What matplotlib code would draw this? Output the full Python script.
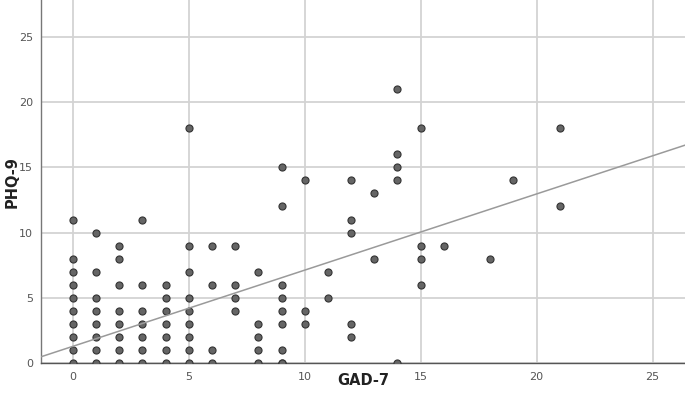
import numpy as np
import matplotlib.pyplot as plt

# GAD-7 vs PHQ-9 scores (one entry per visible dot)
gad7 = (
    [0] * 10 + [1] * 8 + [2] * 8 + [3] * 7 + [4] * 7 + [5] * 9 + [6] * 4
    + [7] * 4 + [8] * 5 + [9] * 9 + [10] * 3 + [11] * 2 + [12] * 5
    + [13] * 2 + [14] * 5 + [15] * 4 + [16] + [18] + [19] + [21] * 2
)
phq9 = (
    [11, 8, 7, 6, 5, 4, 3, 2, 1, 0]       # 0
    + [10, 7, 5, 4, 3, 2, 1, 0]           # 1
    + [9, 8, 6, 4, 3, 2, 1, 0]            # 2
    + [11, 6, 4, 3, 2, 1, 0]              # 3
    + [6, 5, 4, 3, 2, 1, 0]               # 4
    + [18, 9, 7, 5, 4, 3, 2, 1, 0]        # 5
    + [9, 6, 1, 0]                        # 6
    + [9, 6, 5, 4]                        # 7
    + [7, 3, 2, 1, 0]                     # 8
    + [15, 12, 6, 5, 4, 3, 1, 0, 0]       # 9
    + [14, 4, 3]                          # 10
    + [7, 5]                              # 11
    + [14, 11, 10, 3, 2]                  # 12
    + [13, 8]                             # 13
    + [21, 16, 15, 14, 0]                 # 14
    + [18, 9, 8, 6]                       # 15
    + [9]                                 # 16
    + [8]                                 # 18
    + [14]                                # 19
    + [18, 12]                            # 21
)

# fit line as shown in the chart
fit_intercept = 1.30
fit_slope = 0.583

x_ticks = [0, 5, 10, 15, 20, 25]
y_ticks = [0, 5, 10, 15, 20, 25]

# ── Figure ───────────────────────────────────────────────────
fig = plt.figure(figsize=(6.85, 4.03), dpi=100)
ax = fig.add_axes([0.06, 0.0985, 0.94, 0.9015])

ax.set_xlim(-1.37, 26.4)
ax.set_ylim(0, 27.8)

ax.grid(True, color="#d3d3d3", lw=1.3)
ax.set_axisbelow(True)

ax.scatter(gad7, phq9, s=26, color="#656565", edgecolor="#333333",
           linewidths=0.8, zorder=3)

xs = np.array(ax.get_xlim())
ax.plot(xs, fit_intercept + fit_slope * xs, color="#9a9a9a", lw=1.1,
        zorder=4)

ax.set_xticks(x_ticks)
ax.set_yticks(y_ticks)
ax.tick_params(length=0, labelsize=8, colors="#555555", pad=6)

for side in ["top", "right"]:
    ax.spines[side].set_visible(False)
ax.spines["left"].set_color("#777777")
ax.spines["bottom"].set_color("#555555")
ax.spines["left"].set_linewidth(1.0)
ax.spines["bottom"].set_linewidth(1.0)

ax.set_xlabel("GAD-7", fontsize=10.5, fontweight="bold", color="#222222",
              va="center")
ax.set_ylabel("PHQ-9", fontsize=10.5, fontweight="bold", color="#222222",
              va="center")
ax.xaxis.set_label_coords(0.5, -0.046)
ax.yaxis.set_label_coords(-0.045, 0.5)

plt.savefig("out.png", dpi=100)
